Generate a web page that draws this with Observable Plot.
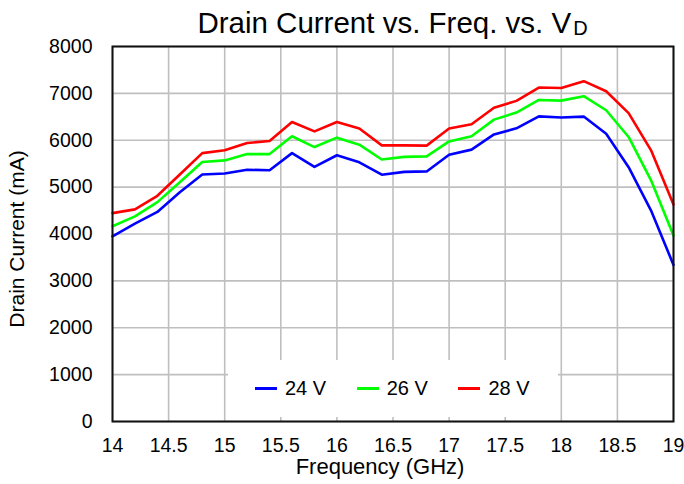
<!DOCTYPE html>
<html>
<head>
<meta charset="utf-8">
<script src="https://cdn.jsdelivr.net/npm/d3@7"></script>
<script src="https://cdn.jsdelivr.net/npm/@observablehq/plot@0.6"></script>
<style>
  html, body { margin: 0; padding: 0; background: #fff; }
  #wrap { position: relative; width: 684px; height: 484px; font-family: "Liberation Sans", Arial, sans-serif; }
  #title { position: absolute; left: 112px; width: 561px; top: 8px; text-align: center; font-size: 29.5px; line-height: 1; color: #000; white-space: nowrap; }
  #title .sub { font-size: 20px; position: relative; top: 2px; margin-left: 2px; }
  #legend { position: absolute; left: 228px; top: 360px; width: 330px; height: 57px; background: #fff; }
  .item { position: absolute; top: 0; height: 57px; }
  .sw { position: absolute; top: 27px; width: 22px; height: 3px; }
  .lab { position: absolute; top: 18px; left: 30px; font-size: 20px; line-height: 1; white-space: nowrap; color: #000; }
</style>
</head>
<body>
<div id="wrap">
  <div id="chart"></div>
  <div id="title">Drain Current vs. Freq. vs. V<span class="sub">D</span></div>
  <div id="legend"></div>
</div>
<script>
const freq = [14, 14.2, 14.4, 14.6, 14.8, 15, 15.2, 15.4, 15.6, 15.8, 16, 16.2, 16.4, 16.6, 16.8, 17, 17.2, 17.4, 17.6, 17.8, 18, 18.2, 18.4, 18.6, 18.8, 19];
const v24 = [3950, 4220, 4470, 4890, 5270, 5290, 5370, 5360, 5725, 5430, 5680, 5530, 5265, 5325, 5335, 5690, 5800, 6125, 6255, 6510, 6485, 6505, 6140, 5425, 4500, 3340];
const v26 = [4165, 4375, 4680, 5105, 5535, 5570, 5705, 5705, 6085, 5855, 6055, 5905, 5590, 5645, 5655, 5975, 6085, 6440, 6590, 6860, 6845, 6940, 6640, 6070, 5145, 3970];
const v28 = [4445, 4525, 4815, 5270, 5725, 5785, 5940, 5985, 6390, 6190, 6390, 6250, 5890, 5890, 5885, 6250, 6340, 6695, 6840, 7125, 7115, 7260, 7045, 6580, 5785, 4630];
const seriesNames = ["24 V", "26 V", "28 V"];
const seriesColors = ["#0000ff", "#00ff00", "#ff0000"];
const xTicks = [14, 14.5, 15, 15.5, 16, 16.5, 17, 17.5, 18, 18.5, 19];
const yTicks = [0, 1000, 2000, 3000, 4000, 5000, 6000, 7000, 8000];

const seriesValues = [v24, v26, v28];
const rows = [];
seriesNames.forEach((name, i) => {
  freq.forEach((f, j) => rows.push({series: name, freq: f, current: seriesValues[i][j]}));
});

const chart = Plot.plot({
  width: 684,
  height: 484,
  marginLeft: 112,
  marginRight: 11,
  marginTop: 46,
  marginBottom: 63,
  style: {fontFamily: "Liberation Sans, Arial, sans-serif", fontSize: "19.5px", color: "#000", background: "#fff"},
  x: {domain: [14, 19]},
  y: {domain: [0, 8000]},
  color: {domain: seriesNames, range: seriesColors},
  marks: [
    Plot.gridX(xTicks, {stroke: "#bfbfbf", strokeOpacity: 1, strokeWidth: 1.6}),
    Plot.gridY(yTicks, {stroke: "#bfbfbf", strokeOpacity: 1, strokeWidth: 1.6}),
    Plot.line(rows, {x: "freq", y: "current", z: "series", stroke: "series", strokeWidth: 2.6}),
    Plot.frame({stroke: "#111", strokeWidth: 2}),
    Plot.axisX(xTicks, {tickSize: 0, tickPadding: 17, label: null, fontSize: 19.5, tickFormat: d => String(d)}),
    Plot.axisY(yTicks, {tickSize: 0, tickPadding: 20, label: null, fontSize: 19.5, tickFormat: d => String(d)}),
    Plot.text(["Frequency (GHz)"], {frameAnchor: "bottom", lineAnchor: "top", dy: 37, dx: -13, fontSize: 22}),
    Plot.text(["Drain Current (mA)"], {frameAnchor: "left", rotate: -90, textAnchor: "middle", lineAnchor: "middle", dx: -95, dy: 5, fontSize: 21})
  ]
});
document.getElementById("chart").appendChild(chart);

const legend = document.getElementById("legend");
seriesNames.forEach((name, i) => {
  const item = document.createElement("div");
  item.className = "item";
  item.style.left = (27 + i * 101.7) + "px";
  const sw = document.createElement("div");
  sw.className = "sw";
  sw.style.background = seriesColors[i];
  const lab = document.createElement("div");
  lab.className = "lab";
  lab.textContent = name;
  item.appendChild(sw);
  item.appendChild(lab);
  legend.appendChild(item);
});
</script>
</body>
</html>
